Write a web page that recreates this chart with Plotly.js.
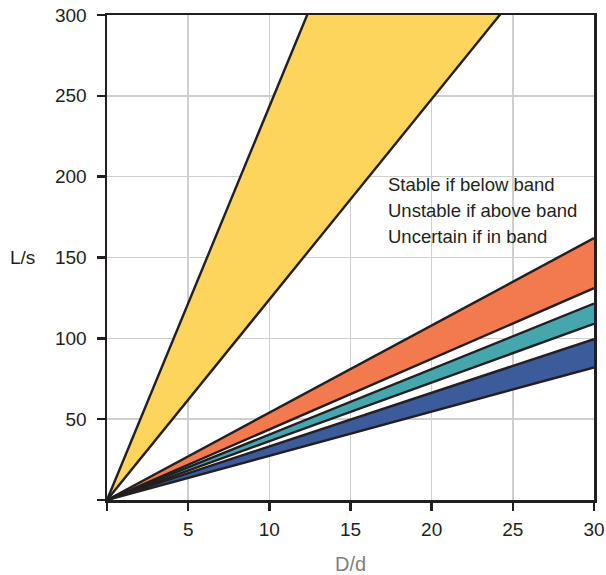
<!DOCTYPE html>
<html>
<head>
<meta charset="utf-8">
<script src="https://cdn.plot.ly/plotly-3.0.1.min.js"></script>
<style>html,body{margin:0;padding:0;background:#fff;}#chart{width:606px;height:575px;}</style>
</head>
<body>
<div id="chart"></div>
<script>
// Band edges: lines from origin (0,0) to (30, value)
const bandNames = ['yellow', 'orange', 'teal', 'blue'];
const upperAt30 = [730, 162, 121.5, 99.5];
const lowerAt30 = [372, 131, 109, 82];
const bandColors = ['#FDD55C', '#F27A4E', '#45A6AE', '#3B5B9A'];
const xEnd = 30;
const xTicks = [0, 5, 10, 15, 20, 25, 30];
const xTickText = ['', '5', '10', '15', '20', '25', '30'];
const yTicks = [0, 50, 100, 150, 200, 250, 300];
const yTickText = ['', '50', '100', '150', '200', '250', '300'];
const noteLines = ['Stable if below band', 'Unstable if above band', 'Uncertain if in band'];
const noteX = 17.2;
const noteY = [195.2, 179.1, 163];

const traces = [];
bandNames.forEach((n, i) => {
  traces.push({
    type: 'scatter', mode: 'none', name: n,
    x: [0, xEnd, xEnd, 0], y: [0, upperAt30[i], lowerAt30[i], 0],
    fill: 'toself', fillcolor: bandColors[i], hoverinfo: 'skip', showlegend: false
  });
});
bandNames.forEach((n, i) => {
  [upperAt30[i], lowerAt30[i]].forEach(v => {
    traces.push({
      type: 'scatter', mode: 'lines', x: [0, xEnd], y: [0, v],
      line: {color: '#231f20', width: 2.4}, hoverinfo: 'skip', showlegend: false
    });
  });
});

const font = 'Liberation Sans, Arial, sans-serif';
const annotations = noteLines.map((t, i) => ({
  x: noteX, y: noteY[i], xref: 'x', yref: 'y', text: t, showarrow: false,
  xanchor: 'left', yanchor: 'middle', font: {family: font, size: 18.5, color: '#231f20'}
}));
annotations.push({
  x: 0, y: 150, xref: 'paper', yref: 'y', text: 'L/s', showarrow: false,
  xanchor: 'center', yanchor: 'middle', xshift: -85, font: {family: font, size: 19, color: '#231f20'}
});

const layout = {
  width: 606, height: 575,
  margin: {l: 107, r: 12, t: 15, b: 75},
  paper_bgcolor: '#fff', plot_bgcolor: '#fff',
  showlegend: false,
  xaxis: {
    range: [0, 30], tickvals: xTicks, ticktext: xTickText,
    showgrid: true, gridcolor: '#cfcfcf', gridwidth: 1.5, zeroline: false,
    showline: true, linecolor: '#231f20', linewidth: 2.5, mirror: true,
    ticks: 'outside', ticklen: 8, tickwidth: 2.5, tickcolor: '#231f20',
    tickfont: {family: font, size: 19, color: '#231f20'}, ticklabelstandoff: 3,
    title: {text: 'D/d', font: {family: font, size: 20, color: '#808080'}, standoff: 26}
  },
  yaxis: {
    range: [0, 300], tickvals: yTicks, ticktext: yTickText,
    showgrid: true, gridcolor: '#cfcfcf', gridwidth: 1.5, zeroline: false,
    showline: true, linecolor: '#231f20', linewidth: 2.5, mirror: true,
    ticks: 'outside', ticklen: 8, tickwidth: 2.5, tickcolor: '#231f20',
    tickfont: {family: font, size: 19, color: '#231f20'}, ticklabelstandoff: 6
  },
  annotations: annotations
};
Plotly.newPlot('chart', traces, layout, {staticPlot: true, displayModeBar: false});
</script>
</body>
</html>
